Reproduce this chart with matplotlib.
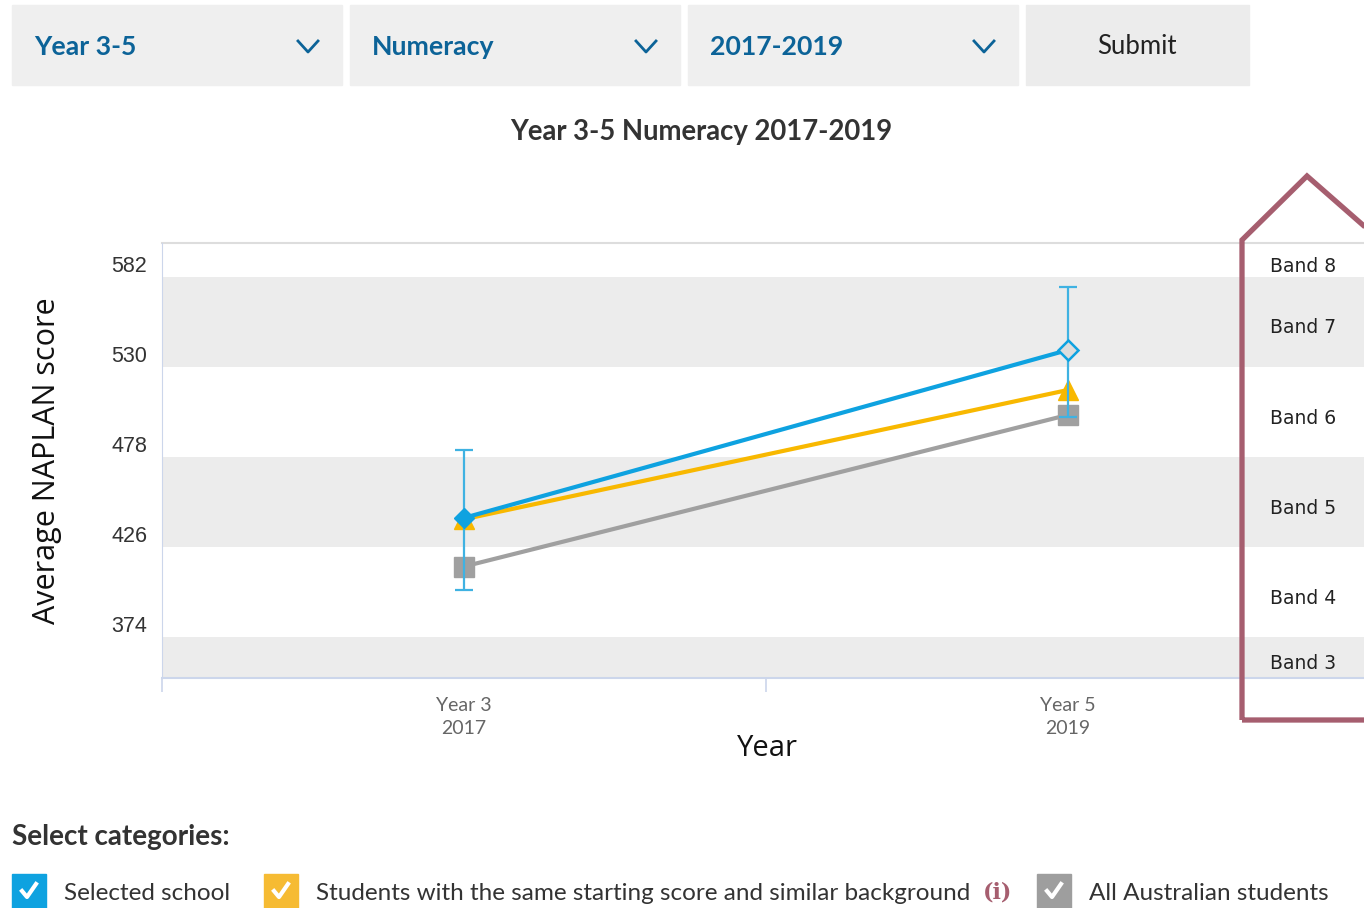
import numpy as np
import matplotlib.pyplot as plt
from matplotlib.lines import Line2D
from matplotlib.patches import Rectangle, Polygon
import matplotlib.transforms as mtransforms

# chart data
years = ['Year 3\n2017', 'Year 5\n2019']
school = [442.8, 539.8]
school_low = [401.2, 501.1]
school_high = [482.0, 576.2]
similar = [442.0, 516.7]
australia = [414.7, 502.3]

band_edges = [322, 374, 426, 478, 530, 582, 634]
band_names = ['Band 3', 'Band 4', 'Band 5', 'Band 6', 'Band 7', 'Band 8']
y_ticks = [374, 426, 478, 530, 582]

dropdowns = ['Year 3-5', 'Numeracy', '2017-2019']
categories = ['Selected school',
              'Students with the same starting score and similar background',
              'All Australian students']

W, H = 1364, 908
fig = plt.figure(figsize=(W / 100, H / 100), dpi=100)


def fx(x):
    return x / W


def fy(y):
    return 1 - y / H


BLUE = '#0ea2e0'
YELLOW = '#f8b800'
GRAY = '#a0a0a0'
AXIS = '#ccd6eb'
MAROON = '#a65e6f'
TXT_BLUE = '#0c6398'

# dropdown bar on top
boxes = [(12, 342), (350, 680), (688, 1018)]
for (x0, x1), label in zip(boxes, dropdowns):
    fig.patches.append(Rectangle((fx(x0), fy(85)), fx(x1 - x0), 80 / H,
                                 transform=fig.transFigure, color='#efefef'))
    fig.text(fx(x0 + 22), fy(47), label, fontsize=19.2, family='Lato',
             weight='bold', color=TXT_BLUE, va='center')
    cx = x1 - 34
    fig.lines.append(Line2D([fx(cx - 10), fx(cx), fx(cx + 10)],
                            [fy(41), fy(52), fy(41)], transform=fig.transFigure,
                            color=TXT_BLUE, lw=2))
fig.patches.append(Rectangle((fx(1026), fy(85)), fx(223), 80 / H,
                             transform=fig.transFigure, color='#ececec'))
fig.text(fx(1137), fy(47), 'Submit', fontsize=18.5, family='Lato',
         color='#222222', ha='center', va='center')

fig.text(fx(701), fy(132), 'Year 3-5 Numeracy 2017-2019', fontsize=19.8,
         family='Lato', weight='bold', color='#333333', ha='center', va='center')

# main plot
ax = fig.add_axes([fx(162), fy(678), 1208 / W, 435 / H])
ax.set_xlim(-0.5, 1.5)
ax.set_ylim(350.3, 601.6)

for i, name in enumerate(band_names):
    if i % 2 == 0:
        ax.axhspan(band_edges[i], band_edges[i + 1], color='#ececec', lw=0, zorder=0)

x = np.arange(len(years))
ax.plot(x, australia, color=GRAY, lw=3, marker='s', ms=15, mec=GRAY, zorder=2)
ax.plot(x, similar, color=YELLOW, lw=3, marker='^', ms=14.5, mec=YELLOW, zorder=3)
school_arr = np.array(school)
ax.errorbar(x, school_arr,
            yerr=[school_arr - np.array(school_low), np.array(school_high) - school_arr],
            fmt='none', ecolor='#3fb2e2', elinewidth=1.6, capsize=6.5, capthick=1.6,
            zorder=4)
ax.plot(x, school, color=BLUE, lw=3, zorder=5)
ax.plot(x[:1], school[:1], ls='none', marker='D', ms=10.5, color=BLUE, zorder=6)
ax.plot(x[1:], school[1:], ls='none', marker='D', ms=10.5, mfc='#dddddd',
        mec=BLUE, mew=1.8, zorder=6)

for s in ['top', 'right']:
    ax.spines[s].set_visible(False)
ax.axhline(601.6, color='#dddddd', lw=1.5, clip_on=False, zorder=1)
ax.spines['left'].set_color(AXIS)
ax.spines['bottom'].set_color(AXIS)
ax.spines['bottom'].set_linewidth(1.5)

ax.set_xticks(x)
ax.set_xticklabels(years, fontsize=14, family='Lato', color='#666666',
                   linespacing=1.45)
ax.set_xticks([-0.5, 0.5, 1.5], minor=True)
ax.tick_params(axis='x', which='major', length=0, pad=13.5)
ax.tick_params(axis='x', which='minor', length=10, color=AXIS, width=1.2)

ax.set_yticks(y_ticks)
ax.set_yticklabels([str(v) for v in y_ticks], fontsize=15.5,
                   family='Liberation Sans', color='#333333')
ax.tick_params(axis='y', length=0, pad=10.5)
offset = mtransforms.ScaledTranslation(0, 13 / 100, fig.dpi_scale_trans)
for lab in ax.get_yticklabels():
    lab.set_transform(lab.get_transform() + offset)

fig.text(fx(47), fy(461), 'Average NAPLAN score', fontsize=22,
         family='Open Sans', rotation=90, ha='center', va='center', color='#111111')
fig.text(fx(767), fy(748), 'Year', fontsize=21, family='Open Sans',
         ha='center', va='center', color='#111111')

# band labels
lo, hi = ax.get_ylim()
blend = mtransforms.blended_transform_factory(fig.transFigure, ax.transData)
for i, name in enumerate(band_names):
    mid = (max(band_edges[i], lo) + min(band_edges[i + 1], hi)) / 2 - 3.5
    ax.text(fx(1270), mid, name, transform=blend, fontsize=13.5,
            family='DejaVu Sans', color='#222222', va='center', clip_on=False)

fig.patches.append(Polygon([(fx(1242), fy(720)), (fx(1242), fy(240)),
                            (fx(1307), fy(176)), (fx(1380), fy(240)),
                            (fx(1380), fy(720))], closed=True, fill=False,
                           edgecolor=MAROON, lw=3.8, joinstyle='miter',
                           transform=fig.transFigure))

# category selector
fig.text(fx(12), fy(837), 'Select categories:', fontsize=20.1, family='Lato',
         weight='bold', color='#333333', va='center')
checks = [(12, BLUE, 64), (264, '#f6bb33', 316), (1037, '#9e9e9e', 1089)]
for (bx, col, tx), label in zip(checks, categories):
    fig.patches.append(Rectangle((fx(bx), fy(908)), fx(34), 34 / H,
                                 transform=fig.transFigure, color=col))
    fig.lines.append(Line2D([fx(bx + 10), fx(bx + 15), fx(bx + 24)],
                            [fy(891), fy(897), fy(884)], transform=fig.transFigure,
                            color='white', lw=3))
    fig.text(fx(tx), fy(894), label, fontsize=17.5, family='Lato',
             color='#333333', va='center')
fig.text(fx(998), fy(893), '(i)', fontsize=16, family='DejaVu Serif',
         weight='bold', color=MAROON, va='center', ha='center')

fig.savefig('out.png', dpi=100)
